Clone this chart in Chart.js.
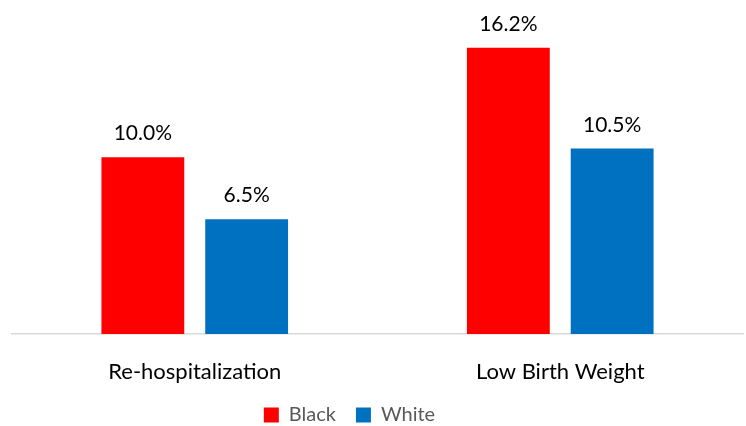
<!DOCTYPE html>
<html>
<head>
<meta charset="utf-8">
<script src="https://cdn.jsdelivr.net/npm/chart.js@4"></script>
<style>
html,body{margin:0;padding:0;background:#fff;}
#wrap{width:746px;height:426px;}
</style>
</head>
<body>
<div id="wrap"><canvas id="c" width="746" height="426"></canvas></div>
<script>
const categories = ['Re-hospitalization', 'Low Birth Weight'];
const seriesNames = ['Black', 'White'];
const blackValues = [10.0, 16.2];
const whiteValues = [6.5, 10.5];
const seriesColors = ['#FF0000', '#0070C0'];

const FONT = 'Lato, "Open Sans", sans-serif';

const valueLabels = {
  id: 'valueLabels',
  afterDatasetsDraw(chart) {
    const ctx = chart.ctx;
    ctx.save();
    ctx.font = '21px ' + FONT;
    ctx.fillStyle = '#000000';
    ctx.textAlign = 'center';
    ctx.textBaseline = 'alphabetic';
    chart.data.datasets.forEach((ds, i) => {
      const meta = chart.getDatasetMeta(i);
      meta.data.forEach((el, j) => {
        ctx.fillText(ds.data[j].toFixed(1) + '%', el.x, el.y - 17);
      });
    });
    ctx.restore();
  }
};

// shift the centred legend a little to the left, as in the reference
const legendShift = {
  id: 'legendShift',
  afterLayout(chart) {
    if (chart.legend) chart.legend.right -= 56;
  }
};

new Chart(document.getElementById('c'), {
  type: 'bar',
  data: {
    labels: categories,
    datasets: [
      { label: seriesNames[0], data: blackValues, backgroundColor: seriesColors[0] },
      { label: seriesNames[1], data: whiteValues, backgroundColor: seriesColors[1] }
    ]
  },
  options: {
    responsive: false,
    animation: false,
    devicePixelRatio: 1,
    categoryPercentage: 0.568,
    barPercentage: 0.798,
    layout: { padding: { left: 12, right: 3, top: 16, bottom: -9 } },
    scales: {
      x: {
        grid: { display: false },
        border: { display: true, color: '#d9d9d9', width: 1.5 },
        ticks: { color: '#000000', font: { family: FONT, size: 22 }, padding: 17 },
        afterFit(scale) { scale.height = 51; }
      },
      y: {
        display: false,
        min: 0,
        max: 18
      }
    },
    plugins: {
      legend: {
        position: 'bottom',
        labels: {
          color: '#595959',
          font: { family: FONT, size: 20 },
          boxWidth: 15,
          boxHeight: 15,
          padding: 20
        }
      },
      tooltip: { enabled: false }
    }
  },
  plugins: [valueLabels, legendShift]
});
</script>
</body>
</html>
